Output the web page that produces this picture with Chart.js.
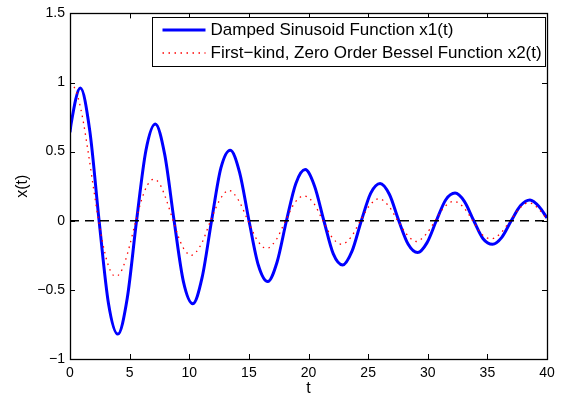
<!DOCTYPE html>
<html>
<head>
<meta charset="utf-8">
<script src="https://cdn.jsdelivr.net/npm/chart.js@4.4.1/dist/chart.umd.min.js"></script>
<style>
  html, body { margin: 0; padding: 0; background: #fff; }
  #plot { display: block; }
</style>
</head>
<body>
<canvas id="plot" width="566" height="403"></canvas>
<script>
// damped sinusoid x1(t) (peaks, zero crossings, in-between points)
const tX1 = [0, 0.09, 0.87, 1.66, 2.44, 3.23, 4.01, 4.80, 5.58, 6.37, 7.15, 7.94, 8.73, 9.51,
  10.30, 11.08, 11.87, 12.65, 13.44, 14.22, 15.01, 15.79, 16.58, 17.36, 18.15, 18.94, 19.72,
  20.51, 21.29, 22.08, 22.86, 23.65, 24.43, 25.22, 26.00, 26.79, 27.57, 28.36, 29.15, 29.93,
  30.72, 31.50, 32.29, 33.07, 33.86, 34.64, 35.43, 36.21, 37.00, 37.79, 38.57, 39.36, 40];
const x1 = [0.64, 0.70, 0.96, 0.65, 0, -0.60, -0.82, -0.56, 0, 0.51, 0.70, 0.48, 0, -0.44,
  -0.60, -0.41, 0, 0.38, 0.51, 0.35, 0, -0.32, -0.44, -0.30, 0, 0.27, 0.37,
  0.25, 0, -0.24, -0.32, -0.22, 0, 0.20, 0.27, 0.19, 0, -0.17, -0.23, -0.16,
  0, 0.15, 0.20, 0.14, 0, -0.13, -0.17, -0.12, 0, 0.11, 0.15, 0.10, 0.02];

// Bessel J0 x2(t)
const tX2 = [0, 0.5, 1, 1.5, 2, 2.4, 3, 3.5, 3.83, 4.2, 4.6, 5, 5.52, 6, 6.5, 7.02, 7.5, 8,
  8.65, 9.2, 9.6, 10.17, 11, 11.79, 12.55, 13.32, 14.12, 14.93, 15.7, 16.47, 17.27, 18.07,
  18.85, 19.62, 20.41, 21.21, 21.98, 22.76, 23.55, 24.35, 25.12, 25.9, 26.69, 27.49, 28.26,
  29.05, 29.83, 30.63, 31.4, 32.19, 32.97, 33.78, 34.55, 35.33, 36.11, 36.92, 37.69, 38.47,
  39.25, 40];
const x2 = [1, 0.94, 0.77, 0.51, 0.22, 0, -0.26, -0.38, -0.40, -0.38, -0.30, -0.18, 0, 0.15,
  0.26, 0.30, 0.27, 0.17, 0, -0.14, -0.21, -0.25, -0.17, 0, 0.15, 0.22, 0.15, 0, -0.14,
  -0.20, -0.14, 0, 0.13, 0.18, 0.13, 0, -0.12, -0.17, -0.12, 0, 0.11, 0.16, 0.11, 0, -0.10,
  -0.15, -0.10, 0, 0.10, 0.14, 0.10, 0, -0.10, -0.13, -0.09, 0, 0.09, 0.13, 0.09, 0.01];

// zero reference line
const tZero = [0, 40];
const yZero = [0, 0];

const seriesNames = ['Damped Sinusoid Function x1(t)', 'First\u2212kind, Zero Order Bessel Function x2(t)'];
const xRange = [0, 40], xStep = 5;
const yRange = [-1, 1.5], yStep = 0.5;

function toPoints(xs, ys) {
    return xs.map(function (x, i) { return {x: x, y: ys[i]}; });
}

const FONT = "'Liberation Sans', Arial, Helvetica, sans-serif";

// MATLAB style box: inward ticks on all four sides + framed legend in the top right
const matlabBox = {
    id: 'matlabBox',
    afterDraw(chart) {
        const ctx = chart.ctx;
        const a = chart.chartArea;
        const xs = chart.scales.x, ys = chart.scales.y;
        const tick = 5;
        ctx.save();
        ctx.strokeStyle = '#000';
        ctx.lineWidth = 1;
        ctx.beginPath();
        xs.ticks.forEach(function (t) {
            const px = Math.round(xs.getPixelForValue(t.value)) + 0.5;
            ctx.moveTo(px, a.bottom); ctx.lineTo(px, a.bottom - tick);
            ctx.moveTo(px, a.top); ctx.lineTo(px, a.top + tick);
        });
        ys.ticks.forEach(function (t) {
            const py = Math.round(ys.getPixelForValue(t.value)) + 0.5;
            ctx.moveTo(a.left, py); ctx.lineTo(a.left + tick, py);
            ctx.moveTo(a.right, py); ctx.lineTo(a.right - tick, py);
        });
        ctx.stroke();
        ctx.lineWidth = 1.3;
        ctx.strokeRect(Math.round(a.left) + 0.5, Math.round(a.top) + 0.5,
            Math.round(a.width), Math.round(a.height));

        // legend
        const items = chart.data.datasets.filter(function (d) { return d.label; });
        const bx = 152.5, by = 17.5, bw = 393, bh = 49;
        ctx.fillStyle = '#fff';
        ctx.fillRect(bx, by, bw, bh);
        ctx.lineWidth = 1;
        ctx.strokeRect(bx, by, bw, bh);
        ctx.font = '17px ' + FONT;
        ctx.textBaseline = 'middle';
        items.forEach(function (d, i) {
            const ly = by + 12.5 + i * 23;
            ctx.save();
            ctx.strokeStyle = d.borderColor;
            ctx.lineWidth = d.borderWidth;
            ctx.setLineDash(d.borderDash || []);
            ctx.beginPath();
            ctx.moveTo(bx + 10, ly);
            ctx.lineTo(bx + 53, ly);
            ctx.stroke();
            ctx.restore();
            ctx.fillStyle = '#000';
            ctx.fillText(d.label, bx + 58, ly + 0.5);
        });
        ctx.restore();
    }
};

function minusSign(v) {
    return String(v).replace('-', '\u2212');
}

new Chart(document.getElementById('plot'), {
    type: 'line',
    data: {
        datasets: [
            {
                label: seriesNames[0],
                data: toPoints(tX1, x1),
                borderColor: '#0000ff',
                borderWidth: 3,
                cubicInterpolationMode: 'monotone',
                pointRadius: 0,
                order: 3
            },
            {
                label: seriesNames[1],
                data: toPoints(tX2, x2),
                borderColor: '#ff0000',
                borderWidth: 1.3,
                borderDash: [1.5, 4.5],
                cubicInterpolationMode: 'monotone',
                pointRadius: 0,
                order: 2
            },
            {
                label: '',
                data: toPoints(tZero, yZero),
                borderColor: '#000',
                borderWidth: 1.3,
                borderDash: [9, 6],
                pointRadius: 0,
                order: 1
            }
        ]
    },
    plugins: [matlabBox],
    options: {
        responsive: false,
        animation: false,
        devicePixelRatio: 1,
        layout: { padding: { top: 7, right: 19, left: 0, bottom: 0 } },
        plugins: {
            legend: { display: false },
            tooltip: { enabled: false }
        },
        scales: {
            x: {
                type: 'linear',
                min: xRange[0],
                max: xRange[1],
                afterFit: function (s) { s.height = 44; },
                grid: { display: false, drawTicks: false },
                border: { display: false },
                ticks: {
                    stepSize: xStep,
                    color: '#000',
                    padding: 6,
                    maxRotation: 0,
                    font: { family: FONT, size: 14 },
                    callback: minusSign
                },
                title: {
                    display: true,
                    text: 't',
                    color: '#000',
                    font: { family: FONT, size: 16 },
                    padding: { top: 0, bottom: 5 }
                }
            },
            y: {
                min: yRange[0],
                max: yRange[1],
                afterFit: function (s) { s.width = 70; },
                grid: { display: false, drawTicks: false },
                border: { display: false },
                ticks: {
                    stepSize: yStep,
                    color: '#000',
                    padding: 5,
                    font: { family: FONT, size: 14 },
                    callback: minusSign
                },
                title: {
                    display: true,
                    text: 'x(t)',
                    color: '#000',
                    font: { family: FONT, size: 16 },
                    padding: { top: 13, bottom: 0 }
                }
            }
        }
    }
});
</script>
</body>
</html>
